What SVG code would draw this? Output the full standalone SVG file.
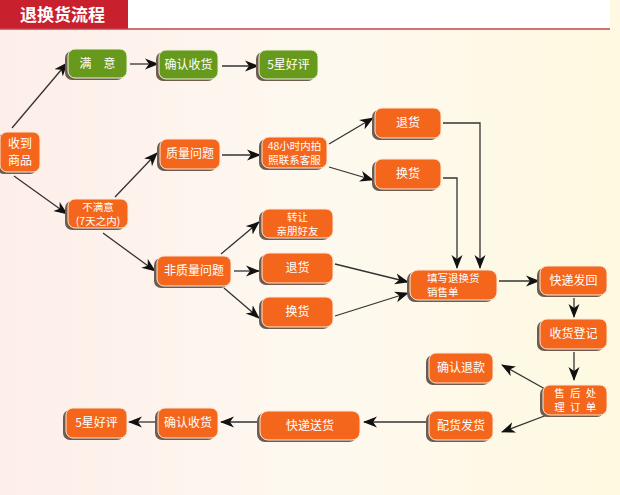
<svg xmlns="http://www.w3.org/2000/svg" width="620" height="495" viewBox="0 0 620 495">
<defs>
<linearGradient id="bg" x1="0" y1="0" x2="1" y2="0">
<stop offset="0" stop-color="#fdeee9"/>
<stop offset="0.5" stop-color="#fef9f0"/>
<stop offset="1" stop-color="#fef9e0"/>
</linearGradient>
<marker id="ah" markerWidth="14" markerHeight="12" refX="13" refY="6" orient="auto" markerUnits="userSpaceOnUse">
<path d="M0,0.5 L14,6 L0,11.5 L4,6 z" fill="#111"/>
</marker>
<style>
.sh{fill:#6e5d4e}
.o{fill:#f5661d;stroke:#fde6d6;stroke-width:1}
.g{fill:#679a1c;stroke:#eef3dc;stroke-width:1}
.t{fill:#fff;font-family:"Noto Sans CJK SC","Noto Sans",sans-serif;font-size:12px;text-anchor:middle}
.s{fill:#fff;font-family:"Noto Sans CJK SC","Noto Sans",sans-serif;font-size:10.5px;text-anchor:middle}
.l{fill:#fff;font-family:"Noto Sans CJK SC","Noto Sans",sans-serif;font-size:10.5px;text-anchor:start}
.c line,.c polyline{stroke:#333;stroke-width:1.3;fill:none}
.a{marker-end:url(#ah)}
</style>
</defs>
<rect x="0" y="0" width="620" height="495" fill="url(#bg)"/>
<rect x="0" y="0" width="610" height="29" fill="#ffffff"/>
<rect x="0" y="0" width="128" height="29" fill="#c8202c"/>
<line x1="0" y1="29" x2="610" y2="29" stroke="#c8404a" stroke-width="1.5"/>
<text x="20" y="21" fill="#fff" font-family="Noto Sans CJK SC,sans-serif" font-size="17" font-weight="bold">退换货流程</text>

<g class="c">
<line class="a" x1="12" y1="128" x2="67" y2="63"/>
<line class="a" x1="14" y1="176" x2="67" y2="214"/>
<line class="a" x1="130" y1="64" x2="158" y2="64"/>
<line class="a" x1="222" y1="66" x2="258" y2="66"/>
<line class="a" x1="115" y1="197" x2="157" y2="153"/>
<line class="a" x1="103" y1="233" x2="155" y2="271"/>
<line class="a" x1="222" y1="155" x2="260" y2="155"/>
<line class="a" x1="329" y1="144" x2="373" y2="118"/>
<line class="a" x1="329" y1="167" x2="373" y2="180"/>
<polyline class="a" points="443,123 480,123 480,268"/>
<polyline class="a" points="443,178 457,178 457,268"/>
<line class="a" x1="221" y1="254" x2="259" y2="222"/>
<line class="a" x1="234" y1="271" x2="259" y2="271"/>
<line class="a" x1="224" y1="288" x2="259" y2="318"/>
<line class="a" x1="335" y1="264" x2="408" y2="282"/>
<line class="a" x1="335" y1="316" x2="408" y2="293"/>
<line class="a" x1="499" y1="281" x2="539" y2="281"/>
<line class="a" x1="574" y1="298" x2="574" y2="317"/>
<line class="a" x1="574" y1="352" x2="574" y2="380"/>
<line class="a" x1="545" y1="389" x2="502" y2="365"/>
<line class="a" x1="547" y1="415" x2="502" y2="432"/>
<line class="a" x1="427" y1="422" x2="364" y2="422"/>
<line class="a" x1="258" y1="422" x2="221" y2="422"/>
<line class="a" x1="155" y1="422" x2="129" y2="422"/>
</g>

<g id="n-received"><rect class="sh" x="-3" y="134" width="40" height="40" rx="7"/><rect class="o" x="0" y="132" width="40" height="40" rx="7"/><text class="t" x="20" y="148">收到</text><text class="t" x="20" y="165">商品</text></g>
<g id="n-satisfied"><rect class="sh" x="65" y="51" width="59" height="29" rx="7"/><rect class="g" x="68" y="49" width="59" height="29" rx="7"/><text class="t" x="97.5" y="68">满　意</text></g>
<g id="n-confirm1"><rect class="sh" x="156" y="52" width="59" height="29" rx="7"/><rect class="g" x="159" y="50" width="59" height="29" rx="7"/><text class="t" x="188.5" y="69">确认收货</text></g>
<g id="n-five1"><rect class="sh" x="256" y="52" width="59" height="29" rx="7"/><rect class="g" x="259" y="50" width="59" height="29" rx="7"/><text class="t" x="288.5" y="69">5星好评</text></g>
<g id="n-unsatisfied"><rect class="sh" x="65" y="201" width="60" height="29" rx="7"/><rect class="o" x="68" y="199" width="60" height="29" rx="7"/><text class="s" x="98" y="210.5">不满意</text><text class="s" x="98" y="224.5">(7天之内)</text></g>
<g id="n-quality"><rect class="sh" x="157" y="141" width="60" height="30" rx="7"/><rect class="o" x="160" y="139" width="60" height="30" rx="7"/><text class="t" x="190" y="158">质量问题</text></g>
<g id="n-48h"><rect class="sh" x="259" y="139" width="65" height="31" rx="7"/><rect class="o" x="262" y="137" width="65" height="31" rx="7"/><text class="s" x="294.5" y="149.5">48小时内拍</text><text class="s" x="294.5" y="163.5">照联系客服</text></g>
<g id="n-return1"><rect class="sh" x="372" y="110" width="66" height="30" rx="7"/><rect class="o" x="375" y="108" width="66" height="30" rx="7"/><text class="t" x="408" y="127">退货</text></g>
<g id="n-exchange1"><rect class="sh" x="372" y="161" width="66" height="30" rx="7"/><rect class="o" x="375" y="159" width="66" height="30" rx="7"/><text class="t" x="408" y="178">换货</text></g>
<g id="n-nonquality"><rect class="sh" x="154" y="258" width="74" height="30" rx="7"/><rect class="o" x="157" y="256" width="74" height="30" rx="7"/><text class="t" x="194" y="275">非质量问题</text></g>
<g id="n-transfer"><rect class="sh" x="259" y="211" width="71" height="29" rx="7"/><rect class="o" x="262" y="209" width="71" height="29" rx="7"/><text class="s" x="297.5" y="220.5">转让</text><text class="s" x="297.5" y="234.5">亲朋好友</text></g>
<g id="n-return2"><rect class="sh" x="259" y="255" width="71" height="30" rx="7"/><rect class="o" x="262" y="253" width="71" height="30" rx="7"/><text class="t" x="297.5" y="272">退货</text></g>
<g id="n-exchange2"><rect class="sh" x="259" y="299" width="71" height="30" rx="7"/><rect class="o" x="262" y="297" width="71" height="30" rx="7"/><text class="t" x="297.5" y="316">换货</text></g>
<g id="n-form"><rect class="sh" x="407" y="272" width="87" height="30" rx="8"/><rect class="o" x="410" y="270" width="87" height="30" rx="8"/><text class="l" x="427" y="281.5">填写退换货</text><text class="l" x="427" y="295.5">销售单</text></g>
<g id="n-shipback"><rect class="sh" x="537" y="268" width="67" height="29" rx="7"/><rect class="o" x="540" y="266" width="67" height="29" rx="7"/><text class="t" x="573.5" y="285">快递发回</text></g>
<g id="n-register"><rect class="sh" x="537" y="321" width="67" height="30" rx="7"/><rect class="o" x="540" y="319" width="67" height="30" rx="7"/><text class="t" x="573.5" y="338">收货登记</text></g>
<g id="n-process"><rect class="sh" x="540" y="387" width="64" height="30" rx="7"/><rect class="o" x="543" y="385" width="64" height="30" rx="7"/><text class="s" x="576" y="396.5" letter-spacing="1.5">售 后 处</text><text class="s" x="576" y="410.5" letter-spacing="1.5">理 订 单</text></g>
<g id="n-refund"><rect class="sh" x="426" y="355" width="64" height="30" rx="7"/><rect class="o" x="429" y="353" width="64" height="30" rx="7"/><text class="t" x="461" y="372">确认退款</text></g>
<g id="n-dispatch"><rect class="sh" x="426" y="413" width="64" height="29" rx="7"/><rect class="o" x="429" y="411" width="64" height="29" rx="7"/><text class="t" x="461" y="430">配货发货</text></g>
<g id="n-deliver"><rect class="sh" x="257" y="413" width="100" height="29" rx="8"/><rect class="o" x="260" y="411" width="100" height="29" rx="8"/><text class="t" x="310" y="430">快递送货</text></g>
<g id="n-confirm2"><rect class="sh" x="155" y="410" width="60" height="30" rx="7"/><rect class="o" x="158" y="408" width="60" height="30" rx="7"/><text class="t" x="188" y="427">确认收货</text></g>
<g id="n-five2"><rect class="sh" x="63" y="410" width="61" height="30" rx="7"/><rect class="o" x="66" y="408" width="61" height="30" rx="7"/><text class="t" x="96.5" y="427">5星好评</text></g>
</svg>
